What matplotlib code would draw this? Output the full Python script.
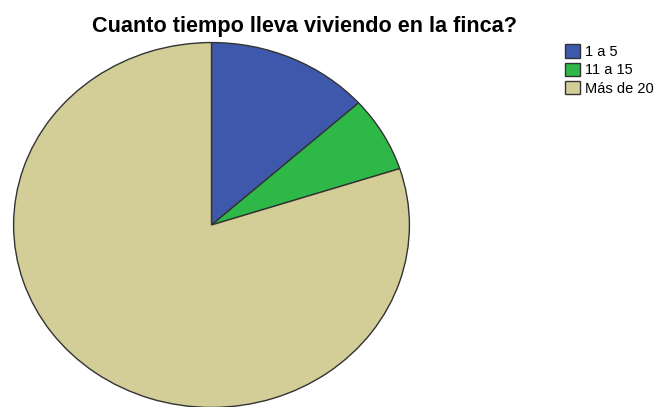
import matplotlib
matplotlib.use("Agg")
import matplotlib.pyplot as plt

categories = ["1 a 5", "11 a 15", "Más de 20"]
counts = [2, 1, 12]
colors = ["#3e58ac", "#2eb848", "#d3ce97"]
title = "Cuanto tiempo lleva viviendo en la finca?"

plt.rcParams['font.family'] = ['Liberation Sans', 'DejaVu Sans']

W, H = 662, 407
fig = plt.figure(figsize=(W / 100, H / 100), dpi=100)
# axes spanning the ellipse: x 13..410, y 42..408 (pixels from top)
ax = fig.add_axes([13 / W, (H - 408) / H, 397 / W, 366 / H])
wedges, _ = ax.pie(counts, colors=colors, startangle=90, counterclock=False,
                   wedgeprops=dict(edgecolor="#333333", linewidth=1.0))
ax.set_aspect('auto')
ax.set_xlim(-1.003, 1.003)
ax.set_ylim(-1.003, 1.003)
ax.axis('off')

fig.text(305 / W, 1 - 32 / H, title, ha='center', va='baseline',
         fontsize=15.6, fontweight='bold')

leg = fig.legend(wedges, categories, loc='upper left',
                 bbox_to_anchor=(565 / W, 1 - 44.5 / H), frameon=False,
                 fontsize=10.5, handlelength=1.03, handleheight=1.0,
                 handletextpad=0.35, labelspacing=0.27, borderaxespad=0,
                 borderpad=0)
for h in leg.legend_handles:
    h.set_edgecolor("#333333")
    h.set_linewidth(1.0)

fig.savefig("out.png", dpi=100)
